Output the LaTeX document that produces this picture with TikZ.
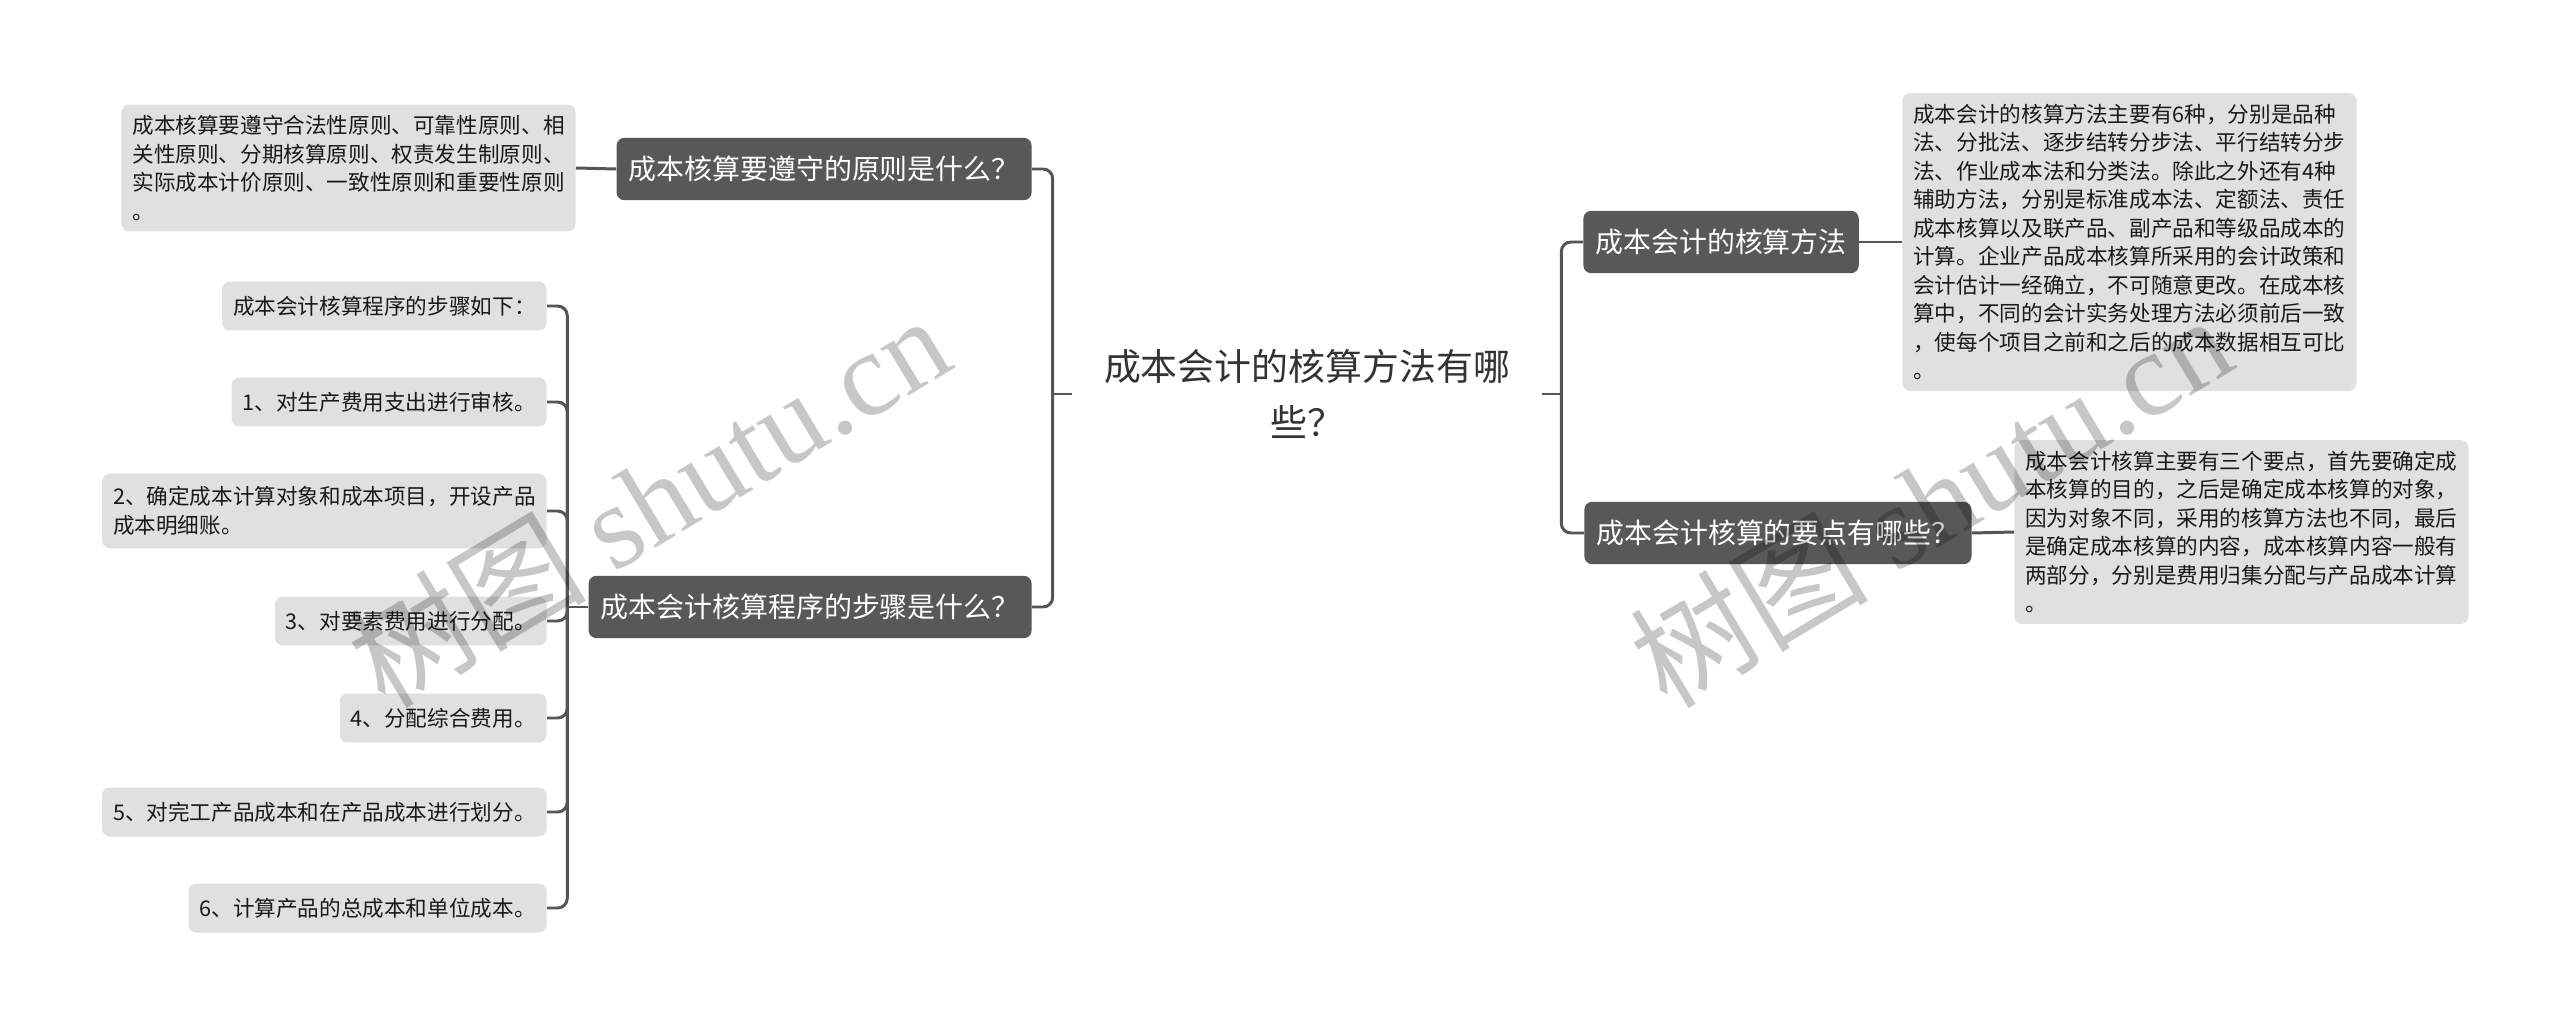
\documentclass[tikz,border=0pt]{standalone}
\usepackage{fontspec}
\setmainfont{Noto Sans CJK SC}
\newfontfamily\wmserif{Liberation Serif}

\definecolor{topicgray}{RGB}{88,88,88}
\definecolor{boxgray}{RGB}{224,224,224}
\definecolor{linegray}{RGB}{85,85,85}
\definecolor{inkgray}{RGB}{25,25,25}

\begin{document}
\begin{tikzpicture}[x=0.02cm, y=-0.02cm,
    % Estilos
    root/.style={
        align=center, text=black!80, inner xsep=0.64cm,
        font=\fontsize{21}{31.9}\selectfont
    },
    topic/.style={
        fill=topicgray, rounded corners=4.5pt, text=white,
        font=\fontsize{15.9}{19}\selectfont,
        inner xsep=0.24cm, minimum height=1.25cm
    },
    detail/.style={
        fill=boxgray, rounded corners=4.5pt, text=inkgray, align=left,
        font=\fontsize{12.3}{16.2}\selectfont,
        inner xsep=0.22cm, inner ysep=0.22cm
    },
    stepbox/.style={
        detail, minimum height=0.98cm, inner ysep=0.26cm
    },
    link/.style={
        draw=linegray, line width=1.7pt, rounded corners=5.5pt
    },
    wmark/.style={
        text=black, text opacity=0.22, rotate=31,
        font=\fontsize{68}{72}\selectfont
    }
]
\useasboundingbox[fill=white] (0,0) rectangle (2560,1027);

% =============================================
% CENTRO
% =============================================
\node[root] (root) at (1307,394) {成本会计的核算方法有哪\\些？};

% =============================================
% LADO IZQUIERDO
% =============================================
\node[topic, anchor=east] (principle) at (1032,169) {成本核算要遵守的原则是什么？};
\node[detail, anchor=east] (principletxt) at (576,168) {成本核算要遵守合法性原则、可靠性原则、相\\关性原则、分期核算原则、权责发生制原则、\\实际成本计价原则、一致性原则和重要性原则\\。};

\node[topic, anchor=east] (procedure) at (1032,607) {成本会计核算程序的步骤是什么？};

% pasos
\node[stepbox, anchor=east] (st0) at (547,306) {成本会计核算程序的步骤如下：};
\node[stepbox, anchor=east] (st1) at (547,402) {1、对生产费用支出进行审核。};
\node[stepbox, anchor=east] (st2) at (547,511) {2、确定成本计算对象和成本项目，开设产品\\成本明细账。};
\node[stepbox, anchor=east] (st3) at (547,621) {3、对要素费用进行分配。};
\node[stepbox, anchor=east] (st4) at (547,718) {4、分配综合费用。};
\node[stepbox, anchor=east] (st5) at (547,812) {5、对完工产品成本和在产品成本进行划分。};
\node[stepbox, anchor=east] (st6) at (547,908) {6、计算产品的总成本和单位成本。};

\draw[link] (root.west) -- ++(-19,0) coordinate (lj);
\draw[link] (lj) |- (principle.east);
\draw[link] (lj) |- (procedure.east);
\draw[link] (principle.west) -- (principletxt.east);

\draw[link] (procedure.west) -- ++(-21,0) coordinate (sj);
\foreach \s in {st0,st1,st2,st3,st4,st5,st6}
    \draw[link] (sj) |- (\s.east);

% =============================================
% LADO DERECHO
% =============================================
\node[topic, anchor=west] (methods) at (1583,242) {成本会计的核算方法};
\node[detail, anchor=west] (methodstxt) at (1902,242) {成本会计的核算方法主要有6种，分别是品种\\法、分批法、逐步结转分步法、平行结转分步\\法、作业成本法和分类法。除此之外还有4种\\辅助方法，分别是标准成本法、定额法、责任\\成本核算以及联产品、副产品和等级品成本的\\计算。企业产品成本核算所采用的会计政策和\\会计估计一经确立，不可随意更改。在成本核\\算中，不同的会计实务处理方法必须前后一致\\，使每个项目之前和之后的成本数据相互可比\\。};

\node[topic, anchor=west] (points) at (1584,533) {成本会计核算的要点有哪些？};
\node[detail, anchor=west] (pointstxt) at (2014,532) {成本会计核算主要有三个要点，首先要确定成\\本核算的目的，之后是确定成本核算的对象，\\因为对象不同，采用的核算方法也不同，最后\\是确定成本核算的内容，成本核算内容一般有\\两部分，分别是费用归集分配与产品成本计算\\。};

\draw[link] (root.east) -- ++(19,0) coordinate (rj);
\draw[link] (rj) |- (methods.west);
\draw[link] (rj) |- (points.west);
\draw[link] (methods.east) -- (methodstxt.west);
\draw[link] (points.east) -- (pointstxt.west);

% =============================================
% MARCA DE AGUA
% =============================================
\node[wmark] (wm1) at (648,500) {树图 {\wmserif shutu.cn}};
\node[wmark] (wm2) at (1930,500) {树图 {\wmserif shutu.cn}};

\end{tikzpicture}
\end{document}
